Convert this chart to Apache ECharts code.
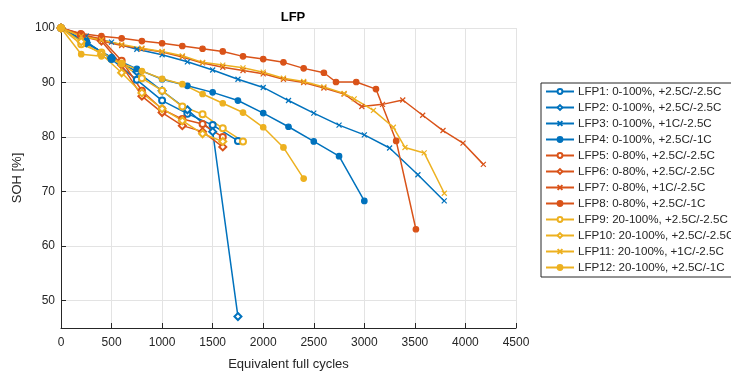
<!DOCTYPE html>
<html><head><meta charset="utf-8">
<script src="https://cdn.jsdelivr.net/npm/echarts@6/dist/echarts.min.js"></script>
<style>html,body{margin:0;padding:0;background:#fff}#c{width:731px;height:376px}</style>
</head><body><div id="c"></div>
<script>
const xTicks = [0,500,1000,1500,2000,2500,3000,3500,4000,4500];
const yTicks = [50,60,70,80,90,100];
const seriesNames = ['LFP1: 0-100%, +2.5C/-2.5C','LFP2: 0-100%, +2.5C/-2.5C','LFP3: 0-100%, +1C/-2.5C','LFP4: 0-100%, +2.5C/-1C','LFP5: 0-80%, +2.5C/-2.5C','LFP6: 0-80%, +2.5C/-2.5C','LFP7: 0-80%, +1C/-2.5C','LFP8: 0-80%, +2.5C/-1C','LFP9: 20-100%, +2.5C/-2.5C','LFP10: 20-100%, +2.5C/-2.5C','LFP11: 20-100%, +1C/-2.5C','LFP12: 20-100%, +2.5C/-1C'];
const lfp1 = [[0,100],[250,97.5],[500,94.3],[750,90.5],[1000,86.7],[1250,84.3],[1500,82.2],[1750,79.3]];
const lfp2 = [[0,100],[250,97.3],[500,94.5],[750,92],[1000,88.5],[1250,85],[1500,81],[1750,47.1]];
const lfp3 = [[0,100],[250,98.5],[500,97.4],[750,96.1],[1000,95.1],[1250,93.8],[1500,92.3],[1750,90.6],[2000,89.1],[2250,86.7],[2500,84.4],[2750,82.2],[3000,80.4],[3250,78.0],[3530,73.1],[3790,68.3]];
const lfp4 = [[0,100],[250,97.2],[500,94.6],[750,92.5],[1000,90.6],[1250,89.4],[1500,88.2],[1750,86.7],[2000,84.4],[2250,81.9],[2500,79.2],[2750,76.5],[3000,68.3]];
const lfp5 = [[0,100],[200,98.8],[400,98.0],[600,94.0],[800,88.5],[1000,85.1],[1200,83.3],[1400,82.4],[1600,80.0]];
const lfp6 = [[0,100],[200,98.5],[400,97.6],[600,93.2],[800,87.5],[1000,84.5],[1200,82.1],[1400,81.0],[1600,78.2]];
const lfp7 = [[0,100],[200,98.8],[400,97.6],[600,96.8],[800,96.2],[1000,95.6],[1200,94.7],[1400,93.6],[1600,92.8],[1800,92.2],[2000,91.6],[2200,90.6],[2400,90.0],[2600,89.0],[2800,87.9],[2975,85.6],[3180,86.0],[3380,86.8],[3577,84.0],[3778,81.2],[3976,78.9],[4177,75.0]];
const lfp8 = [[0,100],[195,99.0],[400,98.5],[600,98.1],[800,97.6],[1000,97.2],[1200,96.7],[1400,96.2],[1600,95.7],[1800,94.8],[2000,94.3],[2200,93.7],[2400,92.6],[2600,91.8],[2720,90.1],[2920,90.1],[3115,88.8],[3315,79.3],[3510,63.1]];
const lfp9 = [[0,100],[200,97],[400,95.5],[600,93.5],[800,90.8],[1000,88.5],[1200,85.6],[1400,84.2],[1600,81.6],[1800,79.2]];
const lfp10 = [[0,100],[200,97.5],[400,95.2],[600,91.8],[800,88.1],[1000,85.2],[1200,83.0],[1400,80.6],[1600,79.2]];
const lfp11 = [[0,100],[200,98.5],[400,97.8],[600,97.0],[800,96.3],[1000,95.7],[1200,94.9],[1400,93.7],[1600,93.2],[1800,92.7],[2000,91.9],[2200,90.8],[2400,90.2],[2600,89.2],[2800,88.0],[2900,87.0],[3090,84.9],[3287,81.8],[3402,78.1],[3592,77.1],[3791,69.7]];
const lfp12 = [[0,100],[200,95.2],[400,94.8],[600,93.5],[800,92.1],[1000,90.7],[1200,89.7],[1400,87.9],[1600,86.2],[1800,84.5],[2000,81.8],[2200,78.1],[2400,72.4]];

const BLUE='#0072BD', ORANGE='#D95319', YELLOW='#EDB120';
const X_SYM='path://M0,0L10,10M10,0L0,10';
const data=[lfp1,lfp2,lfp3,lfp4,lfp5,lfp6,lfp7,lfp8,lfp9,lfp10,lfp11,lfp12];
const colors=[BLUE,BLUE,BLUE,BLUE,ORANGE,ORANGE,ORANGE,ORANGE,YELLOW,YELLOW,YELLOW,YELLOW];
const symbols=['emptyCircle','emptyDiamond',X_SYM,'circle'];
const sizes=[6,7,5,5.5];
const series=data.map((d,i)=>({
  name:seriesNames[i], type:'line', data:d,
  symbol:symbols[i%4], symbolSize:sizes[i%4], showAllSymbol:true,
  lineStyle:{color:colors[i],width:1.5},
  itemStyle:{color:colors[i],borderColor:colors[i],borderWidth:1.2},
  emphasis:{disabled:true}, animation:false
}));
const chart=echarts.init(document.getElementById('c'));
const txt='#262626';
chart.setOption({
  animation:false,
  backgroundColor:'#fff',
  title:{text:'LFP',left:288,top:6,textAlign:'center',textStyle:{fontFamily:'Liberation Sans, Arial',fontSize:13,fontWeight:'bold',color:'#000'}},
  grid:{left:61,right:215,top:28,bottom:46},
  xAxis:{type:'value',min:0,max:4500,interval:500,
    name:'Equivalent full cycles',nameLocation:'middle',nameGap:30,
    nameTextStyle:{fontFamily:'Liberation Sans, Arial',fontSize:13,color:txt},
    axisLine:{lineStyle:{color:txt,width:1}},
    axisTick:{inside:true,length:5,lineStyle:{color:txt}},
    axisLabel:{fontFamily:'Liberation Sans, Arial',fontSize:12,color:txt,margin:9,customValues:xTicks,formatter:v=>String(v)},
    splitLine:{show:true,lineStyle:{color:'#e3e3e3',width:1}}},
  yAxis:{type:'value',min:45,max:100,
    name:'SOH [%]',nameLocation:'middle',nameGap:34,
    nameTextStyle:{fontFamily:'Liberation Sans, Arial',fontSize:13,color:txt},
    axisLine:{lineStyle:{color:txt,width:1}},
    axisTick:{inside:true,length:5,lineStyle:{color:txt},customValues:yTicks},
    axisLabel:{fontFamily:'Liberation Sans, Arial',fontSize:12,color:txt,margin:6,customValues:yTicks,formatter:v=>String(v)},
    splitLine:{show:true,lineStyle:{color:'#e3e3e3',width:1}}},
  legend:{orient:'vertical',left:541,top:83,itemWidth:28,itemHeight:6,itemGap:3,
    padding:[2,6,3,4],borderColor:txt,borderWidth:1,backgroundColor:'#fff',
    textStyle:{fontFamily:'Liberation Sans, Arial',fontSize:11.6,lineHeight:13,color:txt,padding:[0,0,0,-1]},
    data:seriesNames},
  series:series
});
</script></body></html>
